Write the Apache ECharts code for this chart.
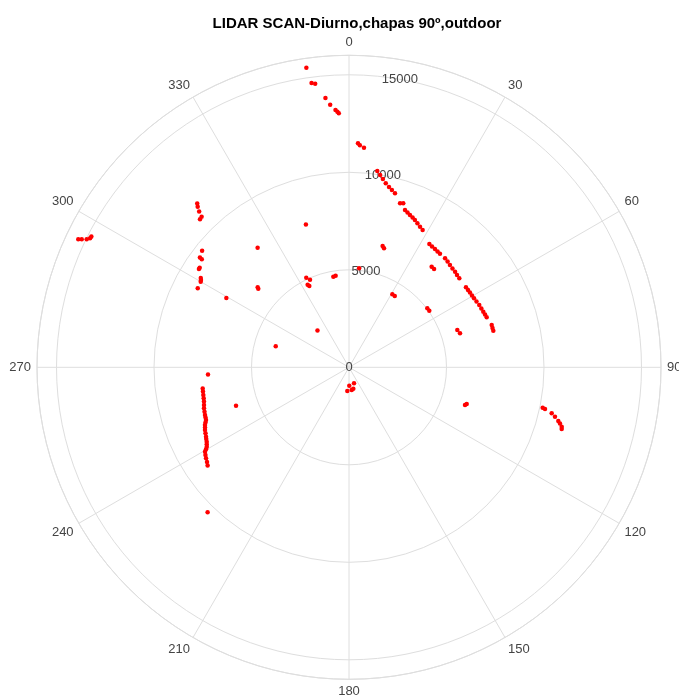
<!DOCTYPE html>
<html>
<head>
<meta charset="utf-8">
<title>LIDAR SCAN</title>
<script src="https://cdn.jsdelivr.net/npm/echarts@6/dist/echarts.min.js"></script>
<style>
  html, body { margin: 0; padding: 0; background: #ffffff; }
  #chart { width: 679px; height: 698px; }
</style>
</head>
<body>
<div id="chart"></div>
<script>
// LIDAR returns: bearing in degrees (0 = forward, clockwise) and range
const scanAngle = [
  351.9, 352.5, 353.2, 355.0, 355.9, 357.0, 357.4, 357.7,
  2.3, 2.8, 3.9,
  8.2, 9.2, 10.2, 11.3, 12.5, 13.6, 14.8,
  17.3, 18.3, 19.6, 20.7, 21.8, 23.0, 24.1, 25.4, 26.8, 28.2,
  33.1, 34.5, 36.0, 37.4, 38.7,
  41.4, 43.0, 44.6, 46.3, 48.0, 49.5, 51.1,
  55.6, 57.0, 58.3, 59.7, 61.1, 62.7, 64.4, 66.0, 67.5, 68.8, 70.0,
  73.5, 74.7, 75.8,
  15.5, 16.4, 39.4, 40.9, 30.7, 32.7, 53.0, 54.8, 71.0, 73.0,
  108.0, 107.3,
  101.8, 102.0, 102.8, 103.5, 104.4, 104.9, 105.6, 106.2,
  179.1, 162.6, 184.1, 173.2, 168.6,
  5.8, 350.2, 351.7, 334.5, 336.0, 333.4, 334.0,
  343.2, 319.4, 286.1, 322.6, 311.2, 310.9, 299.5, 251.2,
  317.2, 316.7, 316.1, 315.6, 314.8,
  308.4, 306.4, 306.3, 303.7, 303.2, 301.1, 300.5, 300.0, 297.6,
  295.3, 295.6, 296.0, 296.5, 296.9,
  267.1, 261.8, 260.6, 259.2, 258.0, 256.7, 255.4, 254.2, 252.9, 251.7,
  250.7, 249.8, 249.0, 248.2, 247.3, 246.5, 245.3, 244.1, 243.3, 242.4,
  241.6, 240.8, 240.2, 239.6, 238.6, 237.5, 236.3, 235.2,
  224.3
];
const scanRange = [
  15519, 14704, 14647, 13863, 13502, 13212, 13122, 13036,
  11497, 11398, 11288,
  10171, 9989, 9812, 9622, 9471, 9356, 9230,
  8807, 8859, 8563, 8487, 8413, 8344, 8277, 8177, 8077, 7991,
  7546, 7516, 7500, 7474, 7460,
  7449, 7413, 7372, 7338, 7320, 7285, 7268,
  7269, 7277, 7290, 7304, 7322, 7358, 7406, 7429, 7454, 7482, 7513,
  7633, 7630, 7634,
  6456, 6361, 6678, 6664, 4353, 4343, 5028, 5038, 5874, 5953,
  6255, 6322,
  10147, 10276, 10659, 10863, 11081, 11195, 11325, 11357,
  944, 860, 1219, 1172, 1119,
  5103, 4715, 4747, 5090, 4917, 4736, 4640,
  7648, 2484, 3911, 7716, 6225, 6155, 7227, 6120,
  11457, 11315, 11083, 10803, 10770,
  9613, 9498, 9367, 9204, 9197, 8877, 8812, 8781, 8753,
  15356, 15198, 14967, 14838, 14815,
  7240, 7580, 7590, 7606, 7619, 7642, 7683, 7728, 7752, 7779,
  7796, 7815, 7885, 7955, 8004, 8054, 8100, 8151, 8194, 8235,
  8295, 8357, 8451, 8560, 8624, 8692, 8753, 8830,
  10382
];

// Angle ticks every 30 degrees, range rings every 5000
const angleTicks = [0, 30, 60, 90, 120, 150, 180, 210, 240, 270, 300, 330];
const rangeTicks = [0, 5000, 10000, 15000];
const rangeMax = 16000;

const points = scanAngle.map((a, i) => [scanRange[i], a]);

const gridColor = '#dedede';
const labelColor = '#444444';
const fontFamily = '"Liberation Sans", Arial, Helvetica, sans-serif';

const chart = echarts.init(document.getElementById('chart'), null, { renderer: 'canvas' });
chart.setOption({
  backgroundColor: '#ffffff',
  animation: false,
  title: {
    text: 'LIDAR SCAN-Diurno,chapas 90º,outdoor',
    left: 352,
    textAlign: 'center',
    top: 11,
    textStyle: { fontFamily, fontSize: 15, fontWeight: 'bold', color: '#000000' }
  },
  polar: [
    { center: [349, 367.3], radius: 312 },
    { center: [349, 367.3], radius: 312 }
  ],
  angleAxis: [
    {
      polarIndex: 0,
      type: 'value',
      min: 0,
      max: 360,
      interval: 30,
      startAngle: 90,
      clockwise: true,
      axisLine: { show: true, lineStyle: { color: gridColor, width: 1 } },
      axisTick: { show: false },
      axisLabel: {
        margin: 6,
        color: labelColor,
        fontSize: 13,
        fontFamily,
        formatter: v => (angleTicks.indexOf(v) >= 0 ? String(v) : '')
      },
      splitLine: { show: true, lineStyle: { color: gridColor, width: 1 } }
    },
    {
      polarIndex: 1,
      type: 'value',
      min: 0,
      max: 360,
      startAngle: 80,
      clockwise: true,
      axisLine: { show: false },
      axisTick: { show: false },
      axisLabel: { show: false },
      splitLine: { show: false }
    }
  ],
  radiusAxis: [
    {
      polarIndex: 0,
      type: 'value',
      min: 0,
      max: rangeMax,
      interval: 5000,
      axisLine: { show: false },
      axisTick: { show: false },
      axisLabel: { show: false },
      splitLine: { show: true, lineStyle: { color: gridColor, width: 1 } }
    },
    {
      polarIndex: 1,
      type: 'value',
      min: 0,
      max: rangeMax,
      interval: 5000,
      axisLine: { show: false },
      axisTick: { show: false },
      splitLine: { show: false },
      axisLabel: {
        show: true,
        margin: 0,
        rotate: 0,
        align: 'center',
        verticalAlign: 'middle',
        color: labelColor,
        fontSize: 13,
        fontFamily,
        showMaxLabel: false,
        formatter: v => (rangeTicks.indexOf(v) >= 0 ? String(v) : '')
      }
    }
  ],
  series: [
    {
      type: 'scatter',
      coordinateSystem: 'polar',
      polarIndex: 0,
      symbol: 'circle',
      symbolSize: 4.5,
      itemStyle: { color: '#ff0000', opacity: 1 },
      data: points
    }
  ]
});
</script>
</body>
</html>
